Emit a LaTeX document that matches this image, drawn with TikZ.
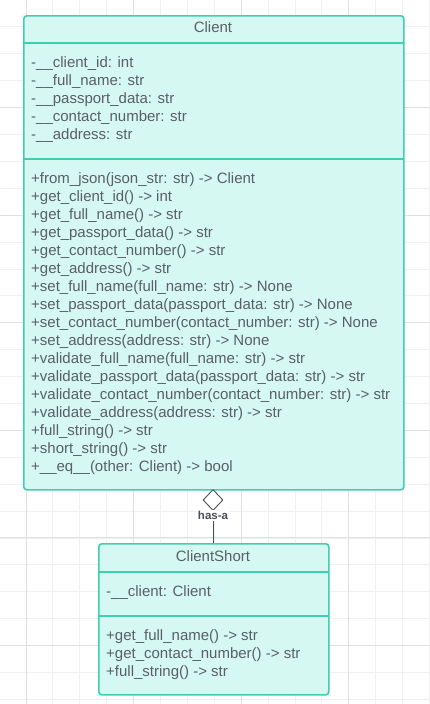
\documentclass[tikz,border=0pt]{standalone}
\usepackage{fontspec}
\setmainfont{Liberation Sans}
\usetikzlibrary{shapes.geometric}
\definecolor{umlstroke}{HTML}{3ECFB3}
\definecolor{umlfill}{HTML}{D6F8F2}
\definecolor{umltxt}{HTML}{595F66}
\definecolor{gridminor}{HTML}{F0F0F0}
\definecolor{gridmajor}{HTML}{E0E0E0}
\definecolor{linkgray}{HTML}{4A4F55}
\tikzset{
  umlbox/.style={draw=umlstroke, fill=umlfill, line width=1.6pt, rounded corners=3pt, inner sep=0pt, anchor=north west},
  divider/.style={draw=umlstroke, line width=1.6pt},
  umlline/.style={anchor=base west, inner sep=0pt, text=umltxt, font=\fontsize{15}{18}\selectfont},
  umltitle/.style={anchor=base, inner sep=0pt, text=umltxt, font=\fontsize{15}{18}\selectfont},
  aggdiamond/.style={shape=diamond, draw=linkgray, fill=white, line width=0.9pt, minimum width=20pt, minimum height=21pt, inner sep=0pt},
  linklabel/.style={fill=white, inner sep=1pt, text=linkgray, font=\fontsize{11.5}{13}\selectfont\bfseries},
  link/.style={draw=linkgray, line width=1pt},
}
\begin{document}
\begin{tikzpicture}[x=1pt,y=-1pt]
\useasboundingbox (0,0) rectangle (430,704);
\fill[white] (0,0) rectangle (430,704);
% grid
\foreach \k in {0,...,16}{
  \draw[gridminor, line width=1pt] ({-0.9+26.9*\k},0) -- ({-0.9+26.9*\k},704);
}
\foreach \k in {1,...,26}{
  \draw[gridminor, line width=1pt] (0,{26.9*\k}) -- (430,{26.9*\k});
}
\foreach \k in {0,...,3}{
  \draw[gridmajor, line width=1pt] ({26+107.6*\k},0) -- ({26+107.6*\k},704);
}
\foreach \k in {0,...,6}{
  \draw[gridmajor, line width=1pt] (0,{107.5+107.6*\k}) -- (430,{107.5+107.6*\k});
}

% Client class
\node[umlbox, minimum width=380pt, minimum height=474pt] (client) at (23,15) {};
\draw[divider] (23,43) -- (403,43);
\draw[divider] (23,159) -- (403,159);
\node[umltitle] (clienttitle) at (213,32) {Client};
\foreach \t [count=\i] in {
  -\_\_client\_id: int,
  -\_\_full\_name: str,
  -\_\_passport\_data: str,
  -\_\_contact\_number: str,
  -\_\_address: str}{
  \node[umlline] (ca\i) at (31,{67.7+18*(\i-1)}) {\t};
}
\foreach \t [count=\i] in {
  +from\_json(json\_str: str) -> Client,
  +get\_client\_id() -> int,
  +get\_full\_name() -> str,
  +get\_passport\_data() -> str,
  +get\_contact\_number() -> str,
  +get\_address() -> str,
  +set\_full\_name(full\_name: str) -> None,
  +set\_passport\_data(passport\_data: str) -> None,
  +set\_contact\_number(contact\_number: str) -> None,
  +set\_address(address: str) -> None,
  +validate\_full\_name(full\_name: str) -> str,
  +validate\_passport\_data(passport\_data: str) -> str,
  +validate\_contact\_number(contact\_number: str) -> str,
  +validate\_address(address: str) -> str,
  +full\_string() -> str,
  +short\_string() -> str,
  +\_\_eq\_\_(other: Client) -> bool}{
  \node[umlline] (cm\i) at (31,{183.3+18*(\i-1)}) {\t};
}

% ClientShort class
\node[umlbox, minimum width=230pt, minimum height=151pt] (short) at (98,543) {};
\draw[divider] (98,572) -- (328,572);
\draw[divider] (98,616) -- (328,616);
\node[umltitle] (shorttitle) at (213,561.7) {ClientShort};
\node[umlline] (sa1) at (106,596.7) {-\_\_client: Client};
\foreach \t [count=\i] in {
  +get\_full\_name() -> str,
  +get\_contact\_number() -> str,
  +full\_string() -> str}{
  \node[umlline] (sm\i) at (106,{640+18*(\i-1)}) {\t};
}

% aggregation
\node[aggdiamond] (agg) at (213,500) {};
\coordinate (shorttop) at (213,543);
\draw[link] (agg.south) -- (shorttop);
\node[linklabel] (hasa) at (213,515.5) {has-a};
\end{tikzpicture}
\end{document}
